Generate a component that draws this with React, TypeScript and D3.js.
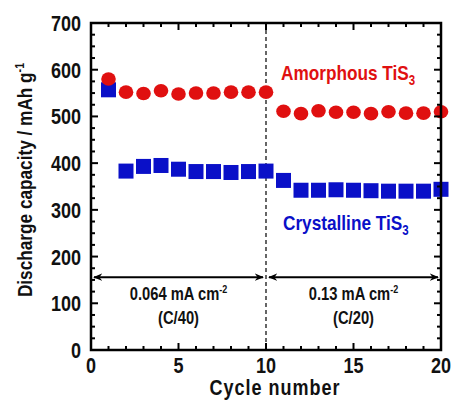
import React from 'react';
import * as d3 from 'd3';

// cycle numbers and discharge capacities (mAh/g)
const cycles = [1, 2, 3, 4, 5, 6, 7, 8, 9, 10, 11, 12, 13, 14, 15, 16, 17, 18, 19, 20];
const amorphous = [580, 552, 549, 555, 548, 550, 550, 552, 552, 552, 511, 506, 512, 509, 509, 506, 510, 507, 507, 510];
const crystalline = [557, 383, 393, 395, 387, 382, 382, 380, 382, 383, 363, 342, 342, 343, 342, 341, 340, 340, 340, 344];
const xTicks = [0, 5, 10, 15, 20];
const yTicks = [0, 100, 200, 300, 400, 500, 600, 700];

const W = 451;
const H = 400;
const margin = { top: 23, right: 10, bottom: 50, left: 91 };
const RED = '#e01010';
const BLUE = '#0a10c8';
const FONT = '"Liberation Sans", Arial, sans-serif';
const NARROW = 0.82; // no narrow font installed, so squeeze horizontally

// text squeezed like Arial Narrow
const T = ({ x, y, rotate = 0, children, ...rest }: any) => (
  <text transform={`translate(${x},${y}) rotate(${rotate}) scale(${NARROW},1)`} {...rest}>
    {children}
  </text>
);

export default function App() {
  const x = d3.scaleLinear().domain([0, 20]).range([margin.left, W - margin.right]);
  const y = d3.scaleLinear().domain([0, 700]).range([H - margin.bottom, margin.top]);
  const [x0, x1] = x.range();
  const [y0, y1] = y.range();

  const xMinor = d3.range(0, 21, 1).filter((v) => v % 5 !== 0);
  const yMinor = d3.range(0, 701, 25).filter((v) => v % 100 !== 0);
  const arrowY = y(156);

  return (
    <svg
      width={W}
      height={H}
      style={{ position: 'absolute', left: 0, top: 0, background: '#fff' }}
      fontFamily={FONT}
      fontWeight="bold"
    >
      <defs>
        <marker id="ah" viewBox="0 0 10 10" refX="9" refY="5" markerWidth="9" markerHeight="9" orient="auto-start-reverse" markerUnits="userSpaceOnUse">
          <path d="M0,1 L10,5 L0,9 L3,5 Z" fill="#000" />
        </marker>
      </defs>

      {/* divider at cycle 10 */}
      <line x1={x(10)} x2={x(10)} y1={y1} y2={y0} stroke="#000" strokeWidth={1.2} strokeDasharray="4,3" />

      {/* current-density arrows */}
      <line x1={x(0) + 3} x2={x(10) - 3} y1={arrowY} y2={arrowY} stroke="#000" strokeWidth={2} markerStart="url(#ah)" markerEnd="url(#ah)" />
      <line x1={x(10) + 3} x2={x(20) - 3} y1={arrowY} y2={arrowY} stroke="#000" strokeWidth={2} markerStart="url(#ah)" markerEnd="url(#ah)" />

      <g fontSize={18} fill="#111" textAnchor="middle">
        <T x={x(5)} y={y(107)}>
          0.064 mA cm<tspan dy={-7} fontSize={11}>-2</tspan>
        </T>
        <T x={x(5)} y={y(55)}>(C/40)</T>
        <T x={x(15)} y={y(107)}>
          0.13 mA cm<tspan dy={-7} fontSize={11}>-2</tspan>
        </T>
        <T x={x(15)} y={y(55)}>(C/20)</T>
      </g>

      {/* crystalline squares */}
      {cycles.map((c, i) => (
        <rect key={'c' + i} x={x(c) - 7.5} y={y(crystalline[i]) - 7.5} width={15} height={15} fill={BLUE} />
      ))}
      {/* amorphous circles */}
      {cycles.map((c, i) => (
        <ellipse key={'a' + i} cx={x(c)} cy={y(amorphous[i])} rx={7.3} ry={6.8} fill={RED} />
      ))}

      {/* series labels */}
      <T x={281} y={80} fontSize={21} fill={RED}>
        Amorphous TiS<tspan dy={5} fontSize={14}>3</tspan>
      </T>
      <T x={283} y={230} fontSize={21} fill={BLUE}>
        Crystalline TiS<tspan dy={5} fontSize={14}>3</tspan>
      </T>

      {/* ticks, inward on all sides */}
      <g stroke="#000" strokeWidth={2}>
        {xTicks.map((t) => (
          <g key={'xt' + t}>
            <line x1={x(t)} x2={x(t)} y1={y0} y2={y0 - 7} />
            <line x1={x(t)} x2={x(t)} y1={y1} y2={y1 + 7} />
          </g>
        ))}
        {xMinor.map((t) => (
          <g key={'xm' + t}>
            <line x1={x(t)} x2={x(t)} y1={y0} y2={y0 - 4} />
            <line x1={x(t)} x2={x(t)} y1={y1} y2={y1 + 4} />
          </g>
        ))}
        {yTicks.map((t) => (
          <g key={'yt' + t}>
            <line x1={x0} x2={x0 + 7} y1={y(t)} y2={y(t)} />
            <line x1={x1} x2={x1 - 7} y1={y(t)} y2={y(t)} />
          </g>
        ))}
        {yMinor.map((t) => (
          <g key={'ym' + t}>
            <line x1={x0} x2={x0 + 4} y1={y(t)} y2={y(t)} />
            <line x1={x1} x2={x1 - 4} y1={y(t)} y2={y(t)} />
          </g>
        ))}
      </g>

      {/* frame */}
      <rect x={x0} y={y1} width={x1 - x0} height={y0 - y1} fill="none" stroke="#000" strokeWidth={2.5} />

      {/* tick labels */}
      <g fontSize={22} fill="#111">
        {yTicks.map((t) => (
          <T key={'yl' + t} x={x0 - 10} y={y(t) + 8} textAnchor="end">
            {t}
          </T>
        ))}
        {xTicks.map((t) => (
          <T key={'xl' + t} x={x(t)} y={y0 + 23} textAnchor="middle">
            {t}
          </T>
        ))}
      </g>

      {/* axis titles */}
      <T x={275} y={395} fontSize={22} textAnchor="middle" fill="#111" letterSpacing={1.2}>
        Cycle number
      </T>
      <T x={32} y={180} rotate={-90} fontSize={21} textAnchor="middle" fill="#111">
        Discharge capacity / mAh g<tspan dy={-8} fontSize={13}>-1</tspan>
      </T>
    </svg>
  );
}
